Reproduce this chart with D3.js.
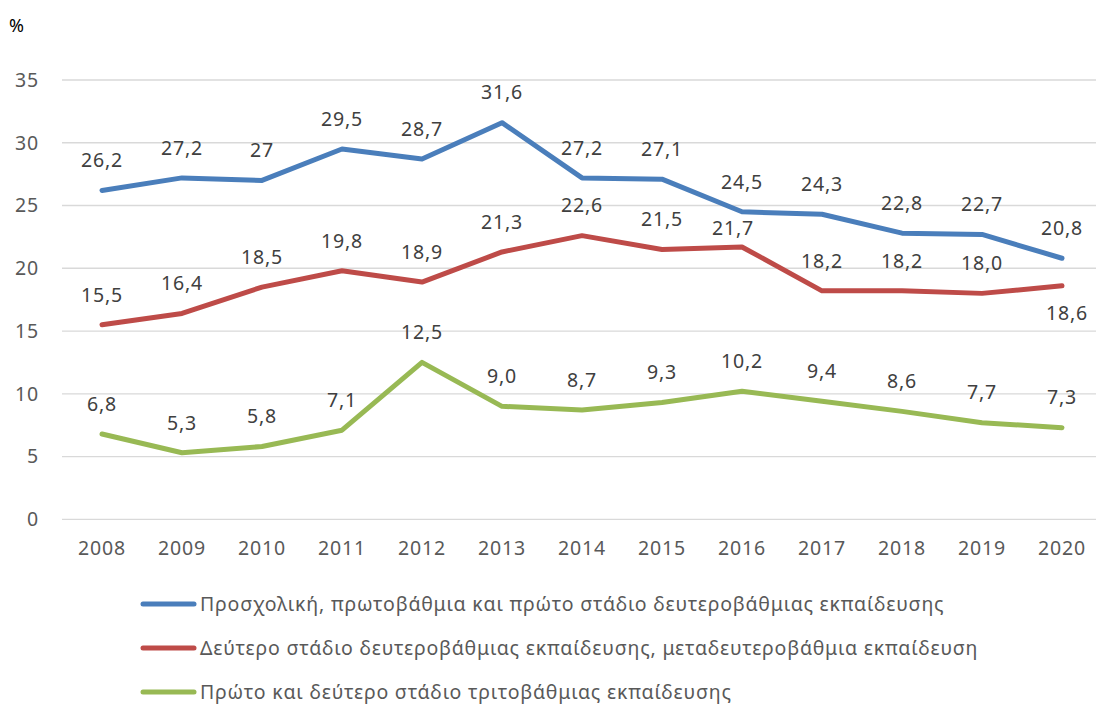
<!DOCTYPE html>
<html><head><meta charset="utf-8">
<script src="https://cdn.jsdelivr.net/npm/d3@7"></script>
<style>body{margin:0;background:#fff;} svg{display:block;}</style>
</head><body>
<svg id="c" width="1096" height="704"></svg>
<script>
const years = ["2008","2009","2010","2011","2012","2013","2014","2015","2016","2017","2018","2019","2020"];
const seriesNames = [
  "Προσχολική, πρωτοβάθμια και πρώτο στάδιο δευτεροβάθμιας εκπαίδευσης",
  "Δεύτερο στάδιο δευτεροβάθμιας εκπαίδευσης, μεταδευτεροβάθμια εκπαίδευση",
  "Πρώτο και δεύτερο στάδιο τριτοβάθμιας εκπαίδευσης"
];
const blueValues = [26.2,27.2,27.0,29.5,28.7,31.6,27.2,27.1,24.5,24.3,22.8,22.7,20.8];
const redValues = [15.5,16.4,18.5,19.8,18.9,21.3,22.6,21.5,21.7,18.2,18.2,18.0,18.6];
const greenValues = [6.8,5.3,5.8,7.1,12.5,9.0,8.7,9.3,10.2,9.4,8.6,7.7,7.3];
const blueLabels = ["26,2","27,2","27","29,5","28,7","31,6","27,2","27,1","24,5","24,3","22,8","22,7","20,8"];
const redLabels = ["15,5","16,4","18,5","19,8","18,9","21,3","22,6","21,5","21,7","18,2","18,2","18,0","18,6"];
const greenLabels = ["6,8","5,3","5,8","7,1","12,5","9,0","8,7","9,3","10,2","9,4","8,6","7,7","7,3"];
const yTicks = [0,5,10,15,20,25,30,35];
const colors = ["#4a7ebb","#be4b48","#98b954"];

const series = [
  {name: seriesNames[0], values: blueValues, labels: blueLabels, color: colors[0]},
  {name: seriesNames[1], values: redValues, labels: redLabels, color: colors[1]},
  {name: seriesNames[2], values: greenValues, labels: greenLabels, color: colors[2]}
];
// label placement tweaks (layout only): [seriesIndex, pointIndex] -> [dx, dy]
const labelTweaks = {"1-8": [-9, -19], "1-12": [5, 27]};

const FONT = "'Noto Sans', sans-serif";
const FS = 19.5, LS = "0.8px";
const svg = d3.select("#c");
const x = d3.scaleBand().domain(years).range([62, 1102]);
const y = d3.scaleLinear().domain([0, 35]).range([519.3, 80]);

function styleText(sel, fill) {
  sel.attr("font-family", FONT).attr("font-size", FS).attr("letter-spacing", LS).attr("fill", fill);
}

// gridlines
svg.append("g").selectAll("line").data(yTicks).join("line")
  .attr("x1", 62).attr("x2", 1102)
  .attr("y1", d => y(d)).attr("y2", d => y(d))
  .attr("stroke", "#d9d9d9").attr("stroke-width", 1.3);

// y axis
const yAxis = svg.append("g").attr("transform", "translate(39,0)")
  .call(d3.axisLeft(y).tickValues(yTicks).tickSize(0).tickPadding(0).tickFormat(d3.format("d")));
yAxis.select(".domain").remove();
styleText(yAxis.selectAll("text"), "#595959");

// x axis
const xAxis = svg.append("g").attr("transform", "translate(0,541)")
  .call(d3.axisBottom(x).tickSize(0).tickPadding(0));
xAxis.select(".domain").remove();
styleText(xAxis.selectAll("text"), "#595959");

// % label
svg.append("text").attr("x", 9).attr("y", 32).text("%")
  .attr("font-family", FONT).attr("font-size", 18).attr("fill", "#000");

const line = d3.line().x((d, i) => x(years[i]) + x.bandwidth() / 2).y(d => y(d));

series.forEach((s, si) => {
  svg.append("path").datum(s.values)
    .attr("d", line).attr("fill", "none")
    .attr("stroke", s.color).attr("stroke-width", 5)
    .attr("stroke-linejoin", "round").attr("stroke-linecap", "round");
  const g = svg.append("g");
  g.selectAll("text").data(s.values).join("text")
    .attr("x", (d, i) => x(years[i]) + x.bandwidth() / 2 + ((labelTweaks[si + "-" + i] || [0, -30])[0]))
    .attr("y", (d, i) => y(d) + ((labelTweaks[si + "-" + i] || [0, -30])[1]))
    .attr("dy", "0.35em")
    .attr("text-anchor", "middle")
    .text((d, i) => s.labels[i]);
  styleText(g.selectAll("text"), "#404040");
});

// legend
const legY = [604, 648, 692];
const leg = svg.append("g");
series.forEach((s, si) => {
  leg.append("line").attr("x1", 143).attr("x2", 194)
    .attr("y1", legY[si]).attr("y2", legY[si])
    .attr("stroke", s.color).attr("stroke-width", 5).attr("stroke-linecap", "round");
  const t = leg.append("text").attr("x", 200).attr("y", legY[si]).attr("dy", "0.35em").text(s.name);
  styleText(t, "#595959");
});
</script>
</body></html>
